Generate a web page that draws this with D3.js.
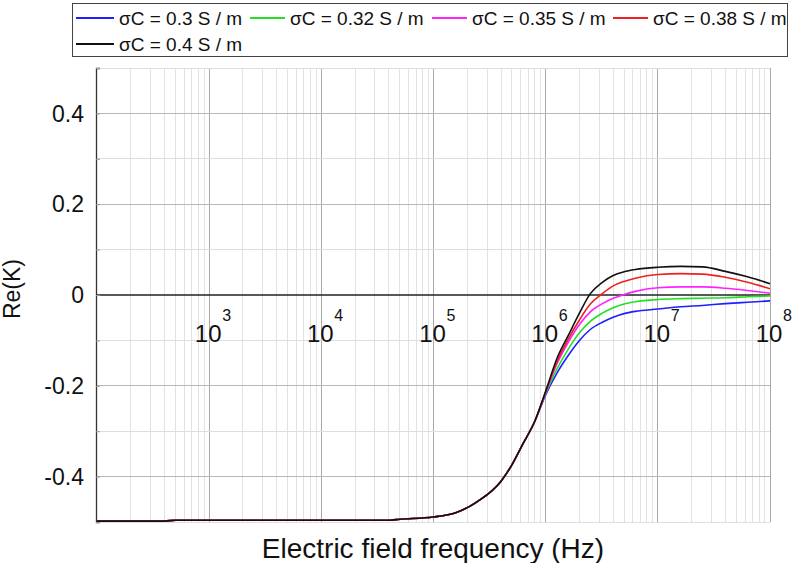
<!DOCTYPE html>
<html>
<head>
<meta charset="utf-8">
<script src="https://cdn.jsdelivr.net/npm/d3@7/dist/d3.min.js"></script>
<style>
  html, body { margin: 0; padding: 0; background: #fff; }
  svg { display: block; font-family: "Liberation Sans", Arial, sans-serif; }
</style>
</head>
<body>
<svg id="chart" width="794" height="563"></svg>
<script>
// ---- data ----
const frequencies = [1e2, 4e2, 5e2, 1e3, 1e4, 4e4, 5e4, 1e5, 1.6e5, 2.5e5, 4e5, 5e5, 6.3e5, 8e5,
  1e6, 1.26e6, 1.6e6, 2e6, 2.5e6, 3.2e6, 4e6, 5e6, 6.3e6, 1e7, 1.6e7, 2.5e7, 4e7, 6.3e7, 1e8];
const seriesNames = ["σC = 0.3 S / m", "σC = 0.32 S / m", "σC = 0.35 S / m", "σC = 0.38 S / m", "σC = 0.4 S / m"];
const seriesColors = ["#1f1fff", "#22e022", "#ff22ff", "#ee2020", "#111111"];
const reK_03 = [-0.498, -0.498, -0.496, -0.496, -0.496, -0.496, -0.494, -0.489, -0.479, -0.454, -0.410, -0.374, -0.327, -0.278,
  -0.220, -0.172, -0.132, -0.100, -0.076, -0.060, -0.049, -0.041, -0.036, -0.031, -0.026, -0.023, -0.019, -0.016, -0.013];
const reK_032 = [-0.498, -0.498, -0.496, -0.496, -0.496, -0.496, -0.494, -0.489, -0.479, -0.454, -0.410, -0.374, -0.327, -0.278,
  -0.217, -0.163, -0.118, -0.083, -0.058, -0.040, -0.028, -0.020, -0.015, -0.010, -0.008, -0.007, -0.006, -0.004, -0.002];
const reK_035 = [-0.498, -0.498, -0.496, -0.496, -0.496, -0.496, -0.494, -0.489, -0.479, -0.454, -0.410, -0.374, -0.327, -0.278,
  -0.215, -0.152, -0.103, -0.065, -0.037, -0.019, -0.007, 0.001, 0.008, 0.016, 0.018, 0.018, 0.015, 0.010, 0.004];
const reK_038 = [-0.498, -0.498, -0.496, -0.496, -0.496, -0.496, -0.494, -0.489, -0.479, -0.454, -0.410, -0.374, -0.327, -0.278,
  -0.213, -0.147, -0.096, -0.055, -0.020, 0.003, 0.020, 0.030, 0.037, 0.045, 0.047, 0.046, 0.039, 0.028, 0.014];
const reK_04 = [-0.498, -0.498, -0.496, -0.496, -0.496, -0.496, -0.494, -0.489, -0.479, -0.454, -0.410, -0.374, -0.327, -0.278,
  -0.212, -0.140, -0.088, -0.040, 0.003, 0.028, 0.043, 0.051, 0.056, 0.061, 0.063, 0.062, 0.052, 0.040, 0.025];
const yTickValues = [-0.4, -0.2, 0, 0.2, 0.4];
const yTickLabels = ["-0.4", "-0.2", "0", "0.2", "0.4"];
const xDecades = [1e3, 1e4, 1e5, 1e6, 1e7, 1e8];
const xDecadeExponents = ["3", "4", "5", "6", "7", "8"];
const xAxisTitle = "Electric field frequency (Hz)";
const yAxisTitle = "Re(K)";

const allSeries = [reK_03, reK_032, reK_035, reK_038, reK_04];

// ---- layout ----
const svg = d3.select("#chart");
const plotLeft = 97, plotRight = 770, plotTop = 68, plotBottom = 522;

const x = d3.scaleLog().domain([1e2, 1e8]).range([plotLeft, plotRight]);
const y = d3.scaleLinear().domain([-0.5, 0.5]).range([plotBottom, plotTop]);

svg.append("rect").attr("width", 794).attr("height", 563).attr("fill", "#fff");

// vertical grid
const grid = svg.append("g");
x.ticks().forEach(t => {
  const lg10 = Math.log10(t);
  const isMajor = Math.abs(lg10 - Math.round(lg10)) < 1e-9;
  if (t <= 1e2) return;
  grid.append("line")
    .attr("x1", x(t)).attr("x2", x(t))
    .attr("y1", plotTop).attr("y2", plotBottom)
    .attr("stroke", isMajor ? "#a8a8a8" : "#e2e2e2")
    .attr("stroke-width", 1)
    .attr("shape-rendering", "crispEdges");
});
// horizontal grid
y.ticks(10).forEach(t => {
  const k = Math.round(t * 10);
  if (k === 0) return;
  grid.append("line")
    .attr("x1", plotLeft).attr("x2", plotRight)
    .attr("y1", y(t)).attr("y2", y(t))
    .attr("stroke", (k % 2 === 0) ? "#b8b8b8" : "#dedede")
    .attr("stroke-width", 1)
    .attr("shape-rendering", "crispEdges");
});

// zero line
svg.append("line")
  .attr("x1", plotLeft).attr("x2", plotRight)
  .attr("y1", y(0)).attr("y2", y(0))
  .attr("stroke", "#222").attr("stroke-width", 1.3);

// left axis
const yAxis = d3.axisRight(y).ticks(10).tickSize(4).tickFormat("");
const ag = svg.append("g").attr("transform", `translate(${plotLeft - 1},0)`).call(yAxis);
ag.select(".domain").attr("stroke", "#333").attr("stroke-width", 1.3);
ag.selectAll(".tick line").attr("stroke", "#999");

// y tick labels
svg.append("g").selectAll("text").data(yTickValues).join("text")
  .attr("x", 84).attr("y", d => y(d))
  .attr("dy", "0.36em")
  .attr("text-anchor", "end")
  .attr("font-size", 23)
  .attr("fill", "#111")
  .text((d, i) => yTickLabels[i]);

// x decade labels inside plot
const xl = svg.append("g");
xDecades.forEach((d, i) => {
  xl.append("text")
    .attr("x", x(d) - 1).attr("y", 342)
    .attr("text-anchor", "middle")
    .attr("font-size", 24)
    .attr("fill", "#111")
    .text("10");
  xl.append("text")
    .attr("x", x(d) + 13).attr("y", 321)
    .attr("text-anchor", "start")
    .attr("font-size", 16)
    .attr("fill", "#111")
    .text(xDecadeExponents[i]);
});

// series
const line = d3.line()
  .x((d, i) => x(frequencies[i]))
  .y(d => y(d))
  .curve(d3.curveMonotoneX);

svg.append("g").selectAll("path").data(allSeries).join("path")
  .attr("d", d => line(d))
  .attr("fill", "none")
  .attr("stroke", (d, i) => seriesColors[i])
  .attr("stroke-width", 1.6);

// axis titles
svg.append("text")
  .attr("x", 433).attr("y", 558)
  .attr("text-anchor", "middle")
  .attr("font-size", 28)
  .attr("fill", "#111")
  .text(xAxisTitle);

svg.append("text")
  .attr("transform", "translate(20,289) rotate(-90)")
  .attr("text-anchor", "middle")
  .attr("font-size", 23)
  .attr("fill", "#111")
  .text(yAxisTitle);

// legend
const lg = svg.append("g");
lg.append("rect")
  .attr("x", 72.5).attr("y", 3.5).attr("width", 715).attr("height", 53)
  .attr("fill", "#fff").attr("stroke", "#444").attr("stroke-width", 1);
const legendPos = [
  { lx: 76, lw: 38, tx: 119, ty: 18 },
  { lx: 250, lw: 35, tx: 290, ty: 18 },
  { lx: 432, lw: 35, tx: 472, ty: 18 },
  { lx: 613, lw: 35, tx: 653, ty: 18 },
  { lx: 76, lw: 38, tx: 119, ty: 44 }
];
seriesNames.forEach((name, i) => {
  const p = legendPos[i];
  lg.append("line")
    .attr("x1", p.lx).attr("x2", p.lx + p.lw)
    .attr("y1", p.ty).attr("y2", p.ty)
    .attr("stroke", seriesColors[i]).attr("stroke-width", 2.2);
  lg.append("text")
    .attr("x", p.tx).attr("y", p.ty)
    .attr("dy", "0.35em")
    .attr("font-size", 19)
    .attr("fill", "#111")
    .text(name);
});
</script>
</body>
</html>
